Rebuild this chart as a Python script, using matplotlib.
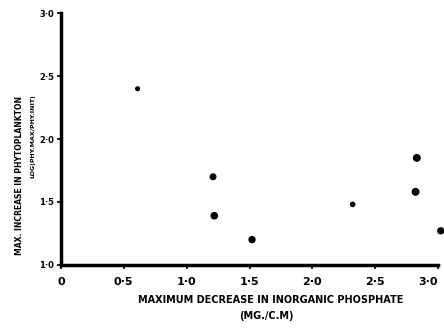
import matplotlib.pyplot as plt

# decrease in inorganic phosphate (mg./c.m) and log increase in phytoplankton
phosphate = [0.61, 1.21, 1.22, 1.52, 2.32, 2.83, 2.82, 3.02]
increase = [2.40, 1.70, 1.39, 1.20, 1.48, 1.85, 1.58, 1.27]
sizes = [7, 16, 20, 18, 9, 22, 22, 18]

x_ticks = [0, 0.5, 1.0, 1.5, 2.0, 2.5, 3.0]
x_labels = ["0", "0·5", "1·0", "1·5", "2·0", "2·5", "3·0"]
y_ticks = [1.0, 1.5, 2.0, 2.5, 3.0]
y_labels = ["1·0", "1·5", "2·0", "2·5", "3·0"]

fig = plt.figure(figsize=(4.44, 3.31), dpi=100)
ax = fig.add_axes([0.137, 0.2, 0.85, 0.76])

ax.scatter(phosphate, increase, s=sizes, c="black", clip_on=False, zorder=3)

ax.set_xlim(0, 3.0)
ax.set_ylim(1.0, 3.0)
ax.set_xticks(x_ticks)
ax.set_xticklabels(x_labels, fontsize=8, fontweight="bold")
ax.get_xticklabels()[-1].set_horizontalalignment("right")
ax.set_yticks(y_ticks)
ax.set_yticklabels(y_labels, fontsize=6, fontweight="bold")
ax.tick_params(axis="x", length=3, width=1.2, pad=6)
ax.tick_params(axis="y", length=3, width=1.2, pad=2)

for side in ["top", "right"]:
    ax.spines[side].set_visible(False)
ax.spines["left"].set_linewidth(2.5)
ax.spines["bottom"].set_linewidth(2.5)

fig.text(0.61, 0.085, "MAXIMUM DECREASE IN INORGANIC PHOSPHATE",
         ha="center", fontsize=7, fontweight="bold")
fig.text(0.6, 0.035, "(MG./C.M)", ha="center", fontsize=7, fontweight="bold")
fig.text(0.045, 0.47, "MAX. INCREASE IN PHYTOPLANKTON", rotation=90,
         ha="center", va="center", fontsize=5.5, fontweight="bold")
fig.text(0.075, 0.59, "LOG(PHY.MAX/PHY.INIT)", rotation=90,
         ha="center", va="center", fontsize=4.5, fontweight="bold")

fig.savefig("out.png", dpi=100)
